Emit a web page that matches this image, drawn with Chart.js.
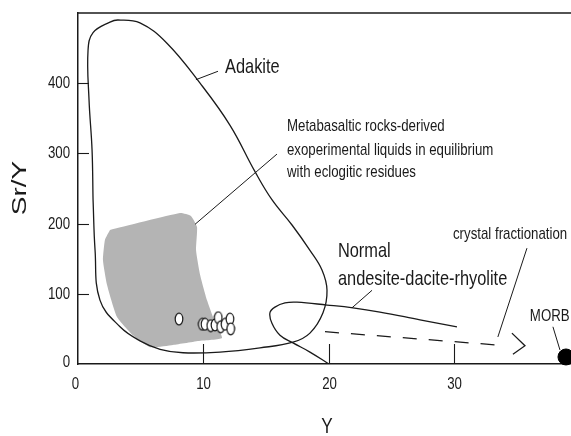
<!DOCTYPE html>
<html>
<head>
<meta charset="utf-8">
<title>Sr/Y vs Y</title>
<script src="https://cdn.jsdelivr.net/npm/chart.js@4.4.1/dist/chart.umd.min.js"></script>
<style>
  html, body { margin: 0; padding: 0; background: #fff; }
  canvas { display: block; }
</style>
</head>
<body>
<canvas id="chart" width="571" height="436"></canvas>
<script>
// axis ticks
const xTicks = [0, 10, 20, 30];
const yTicks = [0, 100, 200, 300, 400];

// field outlines, points are [Y, Sr/Y]
const adakiteField = [
  [1.20, 234], [1.12, 305], [0.88, 376], [0.80, 447], [1.20, 472], [2.55, 487],
  [3.19, 490], [4.94, 486], [7.09, 457], [9.73, 400], [12.12, 340], [14.11, 274],
  [15.46, 234], [17.06, 198], [18.49, 162], [19.45, 134], [19.85, 105], [19.53, 73],
  [18.49, 44], [17.14, 31], [14.51, 23], [11.32, 17], [8.37, 16], [6.54, 21],
  [4.94, 33], [3.35, 53], [1.75, 91], [1.36, 162], [1.20, 234]
];
const eclogiteMelts = [
  [2.55, 191], [8.13, 215], [9.0, 211], [9.49, 195], [9.41, 162], [9.73, 127],
  [10.28, 91], [10.84, 63], [11.48, 37], [9.73, 33], [7.57, 27], [5.74, 24],
  [4.38, 41], [3.11, 67], [2.31, 113], [1.99, 148], [2.15, 177], [2.55, 191]
];
const normalAdr = [
  [30.21, 53], [27.26, 63], [24.07, 74], [21.92, 80], [19.85, 84], [17.46, 88],
  [16.50, 87], [15.70, 81], [15.30, 73], [15.46, 58], [16.10, 41], [17.14, 30],
  [18.49, 17], [20.0, 0]
];

// samples
const sampleY   = [8.05, 9.91, 10.12, 10.58, 10.92, 11.18, 11.37, 11.72, 12.11, 12.17];
const sampleSrY = [64, 56.6, 56.6, 54.6, 55.6, 66, 53, 56.6, 64, 50];
const morb = [[38.9, 10]];

// crystal fractionation trend and its arrowhead
const fractionTrend = [[19.69, 46], [33.47, 27]];
const fractionHead = [[34.59, 44], [35.63, 26], [34.67, 14]];

// label leader lines
const leaders = [
  [[9.40, 405], [11.16, 417]],
  [[9.33, 199], [15.86, 299]],
  [[21.84, 80], [23.44, 105]],
  [[35.79, 165], [33.47, 38.5]],
  [[37.86, 53], [38.42, 20]]
];

const notes = [
  { text: 'Adakite', x: 11.72, y: 423, size: 21 },
  { text: 'Metabasaltic rocks-derived', x: 16.66, y: 338, size: 17 },
  { text: 'exoperimental liquids in equilibrium', x: 16.66, y: 305, size: 17 },
  { text: 'with eclogitic residues', x: 16.66, y: 273, size: 17 },
  { text: 'Normal', x: 20.72, y: 160, size: 21 },
  { text: 'andesite-dacite-rhyolite', x: 20.72, y: 121, size: 21 },
  { text: 'crystal fractionation', x: 29.89, y: 185, size: 17 },
  { text: 'MORB', x: 36.02, y: 68, size: 17 }
];

const ink = '#1a1a1a';
const sans = '"Liberation Sans", Arial, Helvetica, sans-serif';
const squeeze = 0.78;   // condensed lettering

const xy = pts => pts.map(([x, y]) => ({ x, y }));

// open circle, drawn a little taller than wide
const ring = document.createElement('canvas');
ring.width = 10;
ring.height = 14;
const rc = ring.getContext('2d');
rc.fillStyle = '#fff';
rc.strokeStyle = ink;
rc.lineWidth = 1.2;
rc.beginPath();
rc.ellipse(5, 7, 3.8, 5.8, 0, 0, Math.PI * 2);
rc.fill();
rc.stroke();

const outline = (data, extra) => Object.assign({
  data: xy(data),
  showLine: true,
  borderColor: ink,
  borderWidth: 1.3,
  pointRadius: 0,
  tension: 0.4,
  fill: false
}, extra);

const datasets = [
  {
    label: 'samples',
    data: sampleY.map((v, i) => ({ x: v, y: sampleSrY[i] })),
    pointStyle: ring,
    pointRadius: 6
  },
  {
    label: 'MORB',
    data: xy(morb),
    pointStyle: 'circle',
    pointRadius: 8,
    backgroundColor: '#000',
    borderColor: '#000',
    clip: false
  },
  outline(adakiteField, { label: 'Adakite' }),
  outline(normalAdr, { label: 'Normal ADR' }),
  outline(fractionTrend, { label: 'trend', tension: 0, borderDash: [14, 12] }),
  outline(fractionHead, { label: 'arrow', tension: 0 }),
  ...leaders.map((seg, i) => outline(seg, { label: 'leader ' + i, tension: 0, borderWidth: 1 })),
  outline(eclogiteMelts, {
    label: 'experimental melts',
    tension: 0.15,
    borderWidth: 0,
    borderColor: 'rgba(0,0,0,0)',
    backgroundColor: '#b4b4b4',
    fill: 'shape'
  })
];

function narrowText(ctx, text, px, py, size, align, baseline) {
  ctx.save();
  ctx.translate(px, py);
  ctx.scale(squeeze, 1);
  ctx.font = size + 'px ' + sans;
  ctx.textAlign = align;
  ctx.textBaseline = baseline;
  ctx.fillText(text, 0, 0);
  ctx.restore();
}

const overlay = {
  id: 'overlay',
  afterDraw(chart) {
    const { ctx, chartArea: a, scales: { x, y } } = chart;
    ctx.save();
    ctx.strokeStyle = ink;
    ctx.fillStyle = ink;

    // top frame line
    ctx.lineWidth = 1.5;
    ctx.beginPath();
    ctx.moveTo(a.left, a.top);
    ctx.lineTo(a.right, a.top);
    ctx.stroke();

    // tick marks point into the plot, labels sit outside
    ctx.lineWidth = 1.1;
    x.ticks.forEach(t => {
      const px = Math.round(x.getPixelForValue(t.value)) + 0.5;
      narrowText(ctx, String(t.value), px - (t.value === 0 ? 3 : 0), a.bottom + 25, 17, 'center', 'alphabetic');
      if (t.value === 0) return;
      ctx.beginPath();
      ctx.moveTo(px, a.bottom);
      ctx.lineTo(px, a.bottom - 20);
      ctx.stroke();
    });
    y.ticks.forEach(t => {
      const py = Math.round(y.getPixelForValue(t.value)) + 0.5;
      narrowText(ctx, String(t.value), a.left - 8, py - (t.value === 0 ? 2 : 0), 17, 'right', 'middle');
      if (t.value === 0) return;
      ctx.beginPath();
      ctx.moveTo(a.left, py);
      ctx.lineTo(a.left + 11, py);
      ctx.stroke();
    });

    // field labels
    notes.forEach(n => {
      narrowText(ctx, n.text, x.getPixelForValue(n.x), y.getPixelForValue(n.y), n.size, 'left', 'middle');
    });

    // axis titles
    narrowText(ctx, 'Y', 327, 427, 22, 'center', 'middle');
    ctx.translate(20, 188);
    ctx.rotate(-Math.PI / 2);
    ctx.scale(1.4, 1);
    ctx.font = '20px ' + sans;
    ctx.textAlign = 'center';
    ctx.textBaseline = 'middle';
    ctx.fillText('Sr/Y', 0, 0);
    ctx.restore();
  }
};

new Chart(document.getElementById('chart'), {
  type: 'scatter',
  data: { datasets },
  options: {
    responsive: false,
    animation: false,
    devicePixelRatio: 1,
    layout: { autoPadding: false, padding: { top: 13, right: 0, left: 0, bottom: 0 } },
    plugins: { legend: { display: false }, tooltip: { enabled: false } },
    scales: {
      x: {
        type: 'linear',
        position: 'bottom',
        min: 0,
        max: 39.3,
        afterBuildTicks: s => { s.ticks = xTicks.map(v => ({ value: v })); },
        afterFit: s => { s.height = 72; s.paddingLeft = 0; s.paddingRight = 0; },
        grid: { display: false, drawTicks: false },
        border: { display: true, color: ink, width: 1.5 },
        ticks: { display: false }
      },
      y: {
        type: 'linear',
        position: 'left',
        min: 0,
        max: 500,
        afterBuildTicks: s => { s.ticks = yTicks.map(v => ({ value: v })); },
        afterFit: s => { s.width = 78; s.paddingTop = 0; s.paddingBottom = 0; },
        grid: { display: false, drawTicks: false },
        border: { display: true, color: ink, width: 1.5 },
        ticks: { display: false }
      }
    }
  },
  plugins: [overlay]
});
</script>
</body>
</html>
